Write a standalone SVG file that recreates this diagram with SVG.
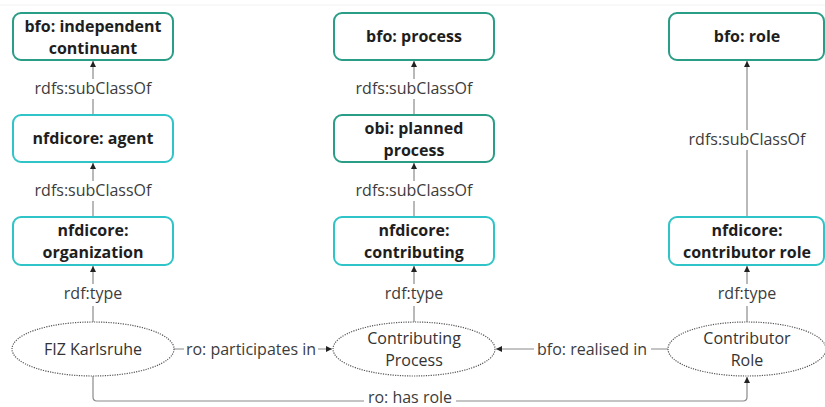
<svg xmlns="http://www.w3.org/2000/svg" width="825" height="407" viewBox="0 0 825 407">
<style>
  .box rect { fill: #ffffff; stroke-width: 2; }
  .cls rect { stroke: #2a9d86; }
  .nfd rect { stroke: #2fc4c8; }
  .box text { font-family: "Open Sans", "Noto Sans", sans-serif; font-size: 16px; font-weight: bold; fill: #1e1e1e; text-anchor: middle; }
  .ind ellipse { fill: #ffffff; stroke: #555555; stroke-width: 1.2; stroke-dasharray: 1.2 1.2; }
  .ind text { font-family: "Open Sans", "Noto Sans", sans-serif; font-size: 16px; fill: #333333; text-anchor: middle; }
  .edge { fill: none; stroke: #8a8a8a; stroke-width: 1.2; }
  .lbl { font-family: "Open Sans", "Noto Sans", sans-serif; font-size: 16px; fill: #3c3c3c; text-anchor: middle; }
  .bg { fill: #ffffff; }
</style>
<defs>
  <marker id="arr" viewBox="0 0 10 10" refX="10" refY="5" markerWidth="6" markerHeight="6" orient="auto" markerUnits="userSpaceOnUse">
    <path d="M0,0 L10,5 L0,10 z" fill="#222222"/>
  </marker>
</defs>
<rect x="0" y="0" width="825" height="407" fill="#ffffff"/>
<line x1="0" y1="5" x2="825" y2="5" stroke="#f2f2f2" stroke-width="1"/>

<g id="connectors">
  <!-- left column -->
  <line class="edge" x1="93" y1="115" x2="93" y2="61" marker-end="url(#arr)"/>
  <rect class="bg" x="33" y="79" width="120" height="20"/>
  <text class="lbl" x="93" y="94">rdfs:subClassOf</text>
  <line class="edge" x1="93" y1="217" x2="93" y2="163" marker-end="url(#arr)"/>
  <rect class="bg" x="33" y="181" width="120" height="20"/>
  <text class="lbl" x="93" y="196">rdfs:subClassOf</text>
  <line class="edge" x1="93" y1="322" x2="93" y2="266" marker-end="url(#arr)"/>
  <rect class="bg" x="60" y="284" width="66" height="22"/>
  <text class="lbl" x="93" y="299">rdf:type</text>
  <!-- middle column -->
  <line class="edge" x1="414" y1="115" x2="414" y2="61" marker-end="url(#arr)"/>
  <rect class="bg" x="354" y="79" width="120" height="20"/>
  <text class="lbl" x="414" y="94">rdfs:subClassOf</text>
  <line class="edge" x1="414" y1="217" x2="414" y2="163" marker-end="url(#arr)"/>
  <rect class="bg" x="354" y="181" width="120" height="20"/>
  <text class="lbl" x="414" y="196">rdfs:subClassOf</text>
  <line class="edge" x1="414" y1="322" x2="414" y2="266" marker-end="url(#arr)"/>
  <rect class="bg" x="381" y="284" width="66" height="22"/>
  <text class="lbl" x="414" y="299">rdf:type</text>
  <!-- right column -->
  <line class="edge" x1="747" y1="217" x2="747" y2="61" marker-end="url(#arr)"/>
  <rect class="bg" x="687" y="130" width="120" height="20"/>
  <text class="lbl" x="747" y="145">rdfs:subClassOf</text>
  <line class="edge" x1="747" y1="322" x2="747" y2="266" marker-end="url(#arr)"/>
  <rect class="bg" x="714" y="284" width="66" height="22"/>
  <text class="lbl" x="747" y="299">rdf:type</text>
  <!-- horizontal -->
  <line class="edge" x1="174" y1="349" x2="332" y2="349" marker-end="url(#arr)"/>
  <rect class="bg" x="184" y="338" width="134" height="22"/>
  <text class="lbl" x="251" y="355">ro: participates in</text>
  <line class="edge" x1="668" y1="349" x2="496" y2="349" marker-end="url(#arr)"/>
  <rect class="bg" x="534" y="338" width="117" height="22"/>
  <text class="lbl" x="592" y="355">bfo: realised in</text>
  <path class="edge" d="M93,376 L93,397 Q93,401 97,401 L743,401 Q747,401 747,397 L747,377" marker-end="url(#arr)"/>
  <rect class="bg" x="364" y="388" width="92" height="19"/>
  <text class="lbl" x="410" y="403">ro: has role</text>
</g>

<g id="n-indep" class="box cls">
  <rect x="13" y="13" width="160" height="47" rx="8"/>
  <text x="93" y="32">bfo: independent</text>
  <text x="93" y="54">continuant</text>
</g>
<g id="n-agent" class="box nfd">
  <rect x="13" y="115" width="160" height="47" rx="8"/>
  <text x="93" y="144">nfdicore: agent</text>
</g>
<g id="n-org" class="box nfd">
  <rect x="13" y="217" width="160" height="48" rx="8"/>
  <text x="93" y="236">nfdicore:</text>
  <text x="93" y="258">organization</text>
</g>
<g id="n-process" class="box cls">
  <rect x="334" y="13" width="160" height="47" rx="8"/>
  <text x="414" y="42">bfo: process</text>
</g>
<g id="n-planned" class="box cls">
  <rect x="334" y="115" width="160" height="47" rx="8"/>
  <text x="414" y="134">obi: planned</text>
  <text x="414" y="156">process</text>
</g>
<g id="n-contributing" class="box nfd">
  <rect x="334" y="217" width="160" height="48" rx="8"/>
  <text x="414" y="236">nfdicore:</text>
  <text x="414" y="258">contributing</text>
</g>
<g id="n-role" class="box cls">
  <rect x="669" y="13" width="155" height="47" rx="8"/>
  <text x="747" y="42">bfo: role</text>
</g>
<g id="n-contributor-role" class="box nfd">
  <rect x="669" y="217" width="155" height="48" rx="8"/>
  <text x="747" y="236">nfdicore:</text>
  <text x="747" y="258">contributor role</text>
</g>

<g id="i-fiz" class="ind">
  <ellipse cx="93" cy="349" rx="81" ry="27"/>
  <text x="93" y="355">FIZ Karlsruhe</text>
</g>
<g id="i-process" class="ind">
  <ellipse cx="414" cy="349" rx="81" ry="27"/>
  <text x="414" y="344">Contributing</text>
  <text x="414" y="366">Process</text>
</g>
<g id="i-role" class="ind">
  <ellipse cx="747" cy="349" rx="79" ry="27"/>
  <text x="747" y="344">Contributor</text>
  <text x="747" y="366">Role</text>
</g>
</svg>
